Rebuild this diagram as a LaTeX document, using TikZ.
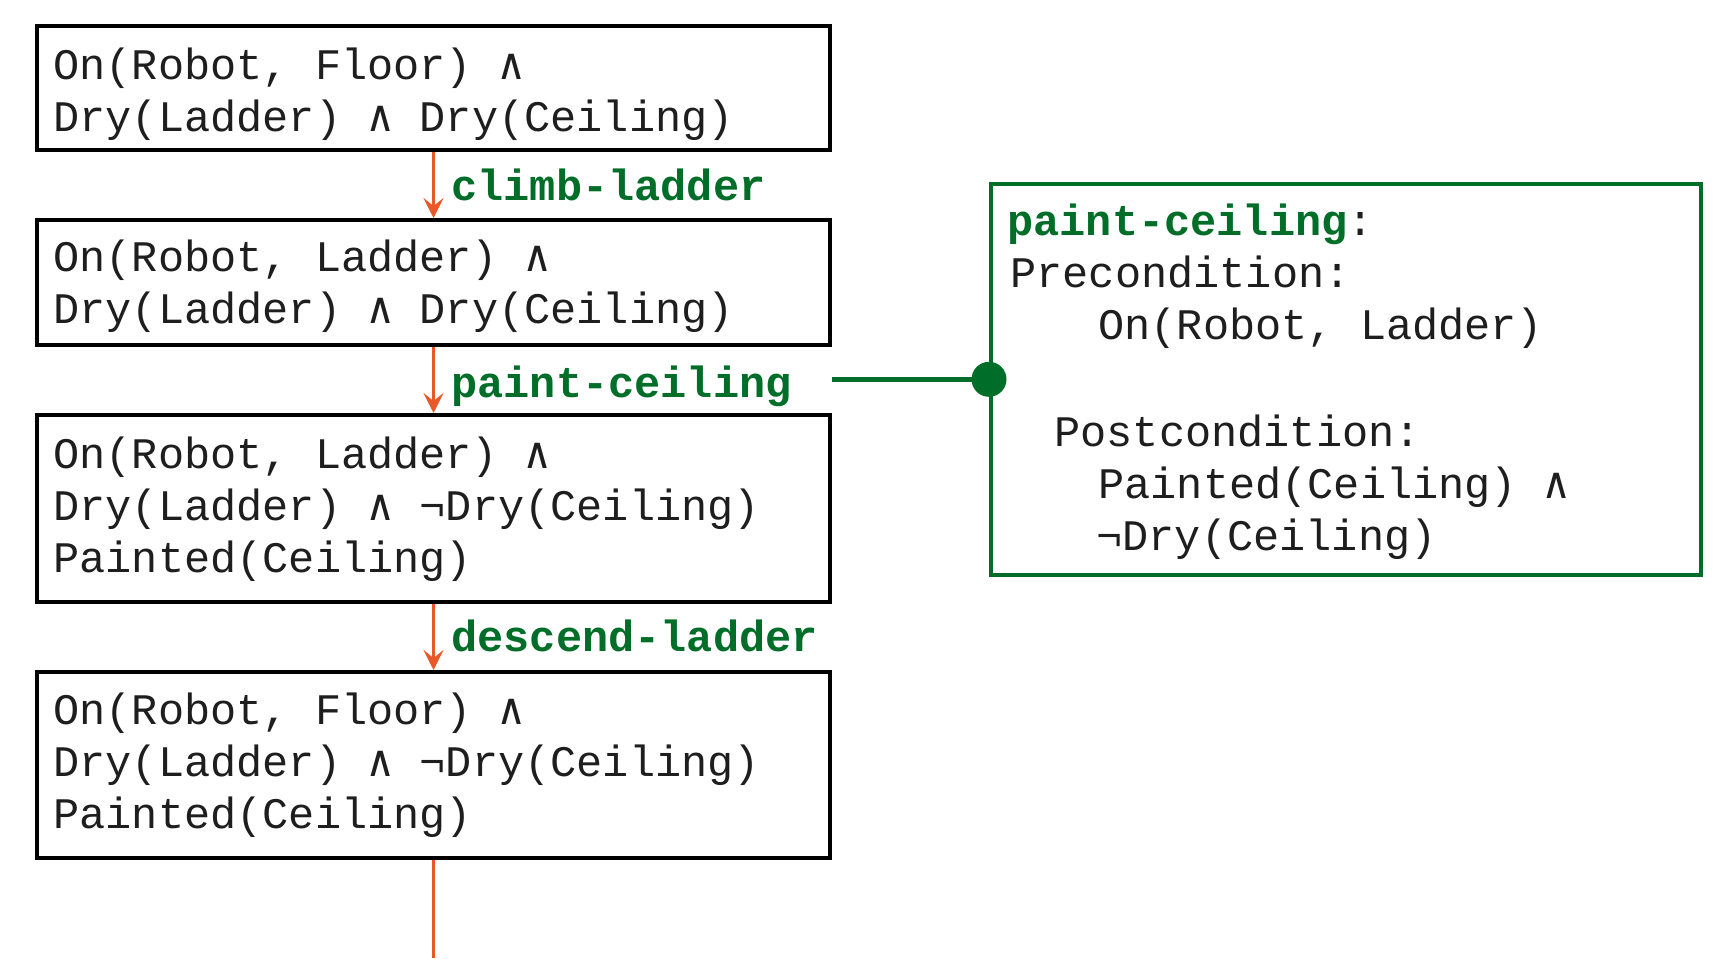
\documentclass[tikz,border=0pt]{standalone}
\usepackage{fontspec}
\setmonofont{Liberation Mono}
\newfontfamily\andfont{DejaVu Sans Mono}
\usetikzlibrary{arrows.meta}
\definecolor{lgreen}{RGB}{0,110,40}
\definecolor{orng}{RGB}{232,88,40}
\definecolor{txt}{RGB}{30,30,30}
\newcommand{\myand}{{\andfont ∧}}
\begin{document}
\begin{tikzpicture}[x=0.5pt,y=-0.5pt,
 every node/.style={font=\ttfamily\fontsize{21.8pt}{26pt}\selectfont, text=txt},
 state/.style={draw=black, line width=2pt, minimum width=396.5pt, anchor=north west, inner sep=0pt},
 line/.style={anchor=base west, inner sep=0pt, align=left},
 act/.style={anchor=base west, inner sep=0pt, font=\ttfamily\bfseries\fontsize{21.8pt}{26pt}\selectfont, text=lgreen},
 flow/.style={draw=orng, line width=1.5pt, -{Stealth[length=10pt,width=10pt,inset=4pt]}},
]
\fill[white] (0,0) rectangle (1722,958);
\useasboundingbox (0,0) rectangle (1722,958);

% state boxes (text nodes anchored at the baseline of their last line)
\node[state, minimum height=62pt] (b1) at (35,24) {};
\node[line] (t1) at (53,131) {On(Robot, Floor) \myand\\Dry(Ladder) \myand{} Dry(Ceiling)};

\node[state, minimum height=62.5pt] (b2) at (35,218) {};
\node[line] (t2) at (53,323) {On(Robot, Ladder) \myand\\Dry(Ladder) \myand{} Dry(Ceiling)};

\node[state, minimum height=93.5pt] (b3) at (35,413) {};
\node[line] (t3) at (53,572) {On(Robot, Ladder) \myand\\Dry(Ladder) \myand{} ¬Dry(Ceiling)\\Painted(Ceiling)};

\node[state, minimum height=93pt] (b4) at (35,670) {};
\node[line] (t4) at (53,828) {On(Robot, Floor) \myand\\Dry(Ladder) \myand{} ¬Dry(Ceiling)\\Painted(Ceiling)};

% flow arrows
\draw[flow] (b1.south) -- (b2.north);
\draw[flow] (b2.south) -- (b3.north);
\draw[flow] (b3.south) -- (b4.north);
\coordinate (end) at (b4.south |- 0,958);
\draw[draw=orng, line width=1.5pt] (b4.south) -- (end);

% action labels
\node[act] (l1) at (451,200) {climb-ladder};
\node[act] (l2) at (451,397) {paint-ceiling};
\node[act] (l3) at (451,651) {descend-ladder};

% action description box
\node[draw=lgreen, line width=1.8pt, minimum width=355pt, minimum height=195.5pt, anchor=north west, inner sep=0pt] (gbox) at (989,182) {};
\node[act] (gtitle) at (1007,235) {paint-ceiling\textcolor{txt}{\mdseries:}};
\node[line] (gpre) at (1010,339) {Precondition:\\\hspace*{44pt}On(Robot, Ladder)};
\node[line] (gpost) at (1054,550) {Postcondition:\\\hspace*{22pt}Painted(Ceiling) \myand\\\hspace*{21pt}¬Dry(Ceiling)};

% connector to the action box
\node[circle, fill=lgreen, minimum size=17.5pt, inner sep=0pt] (dot) at (gbox.west) {};
\draw[draw=lgreen, line width=2.5pt] (b2.east |- dot.center) -- (dot.center);
\end{tikzpicture}
\end{document}
